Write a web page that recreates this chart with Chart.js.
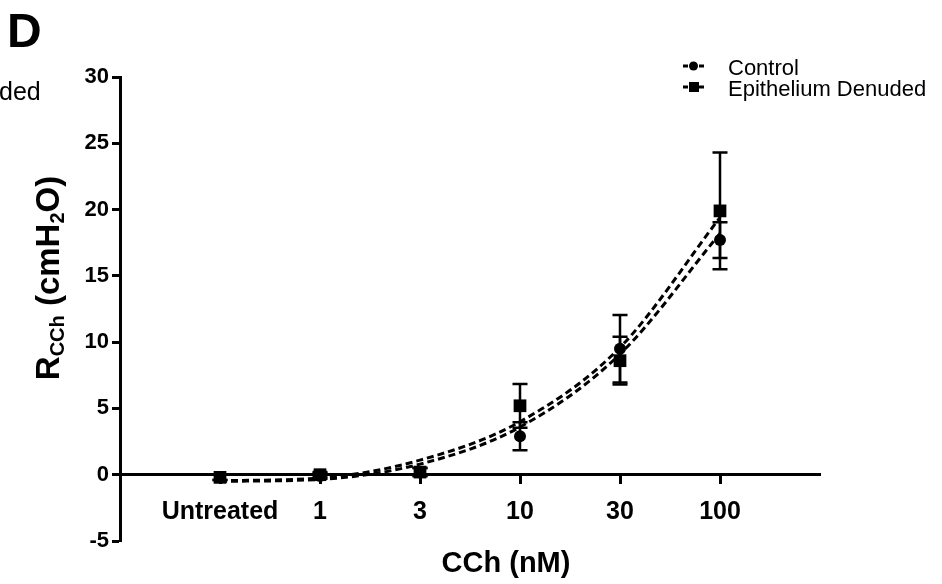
<!DOCTYPE html>
<html lang="en">
<head>
  <meta charset="UTF-8" />
  <title>CCh dose response - Control vs Epithelium Denuded</title>
  <script src="https://cdn.jsdelivr.net/npm/chart.js"></script>
  <style>
    html, body { margin: 0; padding: 0; background: #fff; }
    canvas { display: block; }
  </style>
</head>
<body>
  <canvas id="cchChart" width="942" height="584"></canvas>

<script>
const categories = ['Untreated', '1', '3', '10', '30', '100'];
const yMin = -5, yMax = 30, yStep = 5;

// mean resistance (cmH2O) and SEM per concentration
const control = [-0.2, -0.1, 0.2, 2.9, 9.5, 17.7];
const controlErr = [0.2, 0.2, 0.3, 1.05, 2.55, 1.35];
const denuded = [-0.2, 0.0, 0.2, 5.2, 8.6, 19.9];
const denudedErr = [0.2, 0.2, 0.3, 1.65, 1.8, 4.4];

// fitted curves, value at each concentration
const controlFit = [-0.5, -0.35, 0.8, 3.6, 9.1, 18.2];
const denudedFit = [-0.45, -0.25, 1.1, 4.0, 9.6, 19.4];

const FONT = '"Liberation Sans", Arial, Helvetica, sans-serif';
const toXY = arr => arr.map((v, i) => ({ x: i + 1, y: v }));

// vertical SEM bars with caps, under the markers
const errorBars = {
  id: 'errorBars',
  beforeDatasetsDraw(chart) {
    const { ctx, scales: { x, y } } = chart;
    ctx.save();
    ctx.strokeStyle = '#000';
    ctx.lineWidth = 2.5;
    chart.data.datasets.forEach(ds => {
      if (!ds.errors) return;
      ds.data.forEach((p, i) => {
        const px = x.getPixelForValue(p.x);
        const top = y.getPixelForValue(p.y + ds.errors[i]);
        const bot = y.getPixelForValue(p.y - ds.errors[i]);
        ctx.beginPath();
        ctx.moveTo(px, top); ctx.lineTo(px, bot);
        ctx.moveTo(px - 7.5, top); ctx.lineTo(px + 7.5, top);
        ctx.moveTo(px - 7.5, bot); ctx.lineTo(px + 7.5, bot);
        ctx.stroke();
      });
    });
    ctx.restore();
  }
};

// panel letter, axis titles and the "-o-" style legend
const annotations = {
  id: 'annotations',
  afterDraw(chart) {
    const { ctx } = chart;
    ctx.save();
    ctx.fillStyle = '#000';
    ctx.strokeStyle = '#000';
    ctx.textBaseline = 'alphabetic';

    ctx.font = 'bold 48px ' + FONT;
    ctx.textAlign = 'left';
    ctx.fillText('D', 7, 47);

    ctx.font = '25px ' + FONT;
    ctx.fillText('ded', -1, 100);

    // x title
    ctx.font = 'bold 29px ' + FONT;
    ctx.textAlign = 'center';
    ctx.fillText('CCh (nM)', 506, 572);

    // y title with subscripts, rotated
    const parts = [
      { t: 'R', sub: false },
      { t: 'CCh', sub: true },
      { t: ' (cmH', sub: false },
      { t: '2', sub: true },
      { t: 'O)', sub: false }
    ];
    const mainFont = 'bold 33px ' + FONT, subFont = 'bold 20px ' + FONT;
    let total = 0;
    parts.forEach(p => {
      ctx.font = p.sub ? subFont : mainFont;
      p.w = ctx.measureText(p.t).width;
      total += p.w;
    });
    ctx.translate(59, 278);
    ctx.rotate(-Math.PI / 2);
    ctx.textAlign = 'left';
    let cx = -total / 2;
    parts.forEach(p => {
      ctx.font = p.sub ? subFont : mainFont;
      ctx.fillText(p.t, cx, p.sub ? 5 : 0);
      cx += p.w;
    });
    ctx.setTransform(1, 0, 0, 1, 0, 0);

    // legend
    const rows = chart.data.datasets.filter(ds => ds.errors);
    ctx.font = '22px ' + FONT;
    ctx.textAlign = 'left';
    ctx.lineWidth = 3;
    rows.forEach((ds, i) => {
      const my = 66 + i * 21;
      ctx.beginPath();
      ctx.moveTo(683, my); ctx.lineTo(688, my);
      ctx.moveTo(699, my); ctx.lineTo(704, my);
      ctx.stroke();
      ctx.beginPath();
      if (ds.pointStyle === 'rect') {
        ctx.rect(689, my - 5, 10, 10);
      } else {
        ctx.arc(693.5, my, 4.5, 0, Math.PI * 2);
      }
      ctx.fill();
      ctx.fillText(ds.label, 728, my + 9);
    });
    ctx.restore();
  }
};

const fitLine = {
  borderColor: '#000',
  borderWidth: 3,
  borderDash: [7, 4],
  pointRadius: 0,
  showLine: true,
  fill: false,
  cubicInterpolationMode: 'monotone'
};

new Chart(document.getElementById('cchChart'), {
  type: 'line',
  data: {
    datasets: [
      Object.assign({ label: 'Control fit', data: toXY(controlFit) }, fitLine),
      Object.assign({ label: 'Epithelium Denuded fit', data: toXY(denudedFit) }, fitLine),
      {
        label: 'Control',
        data: toXY(control),
        errors: controlErr,
        showLine: false,
        pointStyle: 'circle',
        pointRadius: 6,
        backgroundColor: '#000',
        borderColor: '#000',
        borderWidth: 0
      },
      {
        label: 'Epithelium Denuded',
        data: toXY(denuded),
        errors: denudedErr,
        showLine: false,
        pointStyle: 'rect',
        pointRadius: 9,
        backgroundColor: '#000',
        borderColor: '#000',
        borderWidth: 0
      }
    ]
  },
  options: {
    responsive: false,
    animation: false,
    devicePixelRatio: 1,
    layout: { padding: { left: 0, top: 77, right: 122, bottom: 43 } },
    plugins: {
      legend: { display: false },
      tooltip: { enabled: false }
    },
    scales: {
      x: {
        type: 'linear',
        position: { y: 0 },
        min: 0,
        max: categories.length + 1,
        afterBuildTicks: axis => {
          axis.ticks = categories.map((c, i) => ({ value: i + 1 }));
        },
        afterFit: axis => { axis.height = 0; },
        ticks: {
          autoSkip: false,
          maxRotation: 0,
          padding: 14,
          color: '#000',
          font: { family: FONT, size: 25, weight: 'bold' },
          callback: value => categories[value - 1]
        },
        grid: {
          drawOnChartArea: false,
          drawTicks: true,
          tickLength: 8,
          tickWidth: 3,
          tickColor: '#000'
        },
        border: { display: true, color: '#000', width: 3 }
      },
      y: {
        type: 'linear',
        min: yMin,
        max: yMax,
        afterFit: axis => { axis.width = 120; },
        ticks: {
          stepSize: yStep,
          padding: 3,
          color: '#000',
          font: { family: FONT, size: 22, weight: 'bold' }
        },
        grid: {
          drawOnChartArea: false,
          drawTicks: true,
          tickLength: 8,
          tickWidth: 3,
          tickColor: '#000'
        },
        border: { display: true, color: '#000', width: 3 }
      }
    }
  },
  plugins: [errorBars, annotations]
});
</script>
</body>
</html>
